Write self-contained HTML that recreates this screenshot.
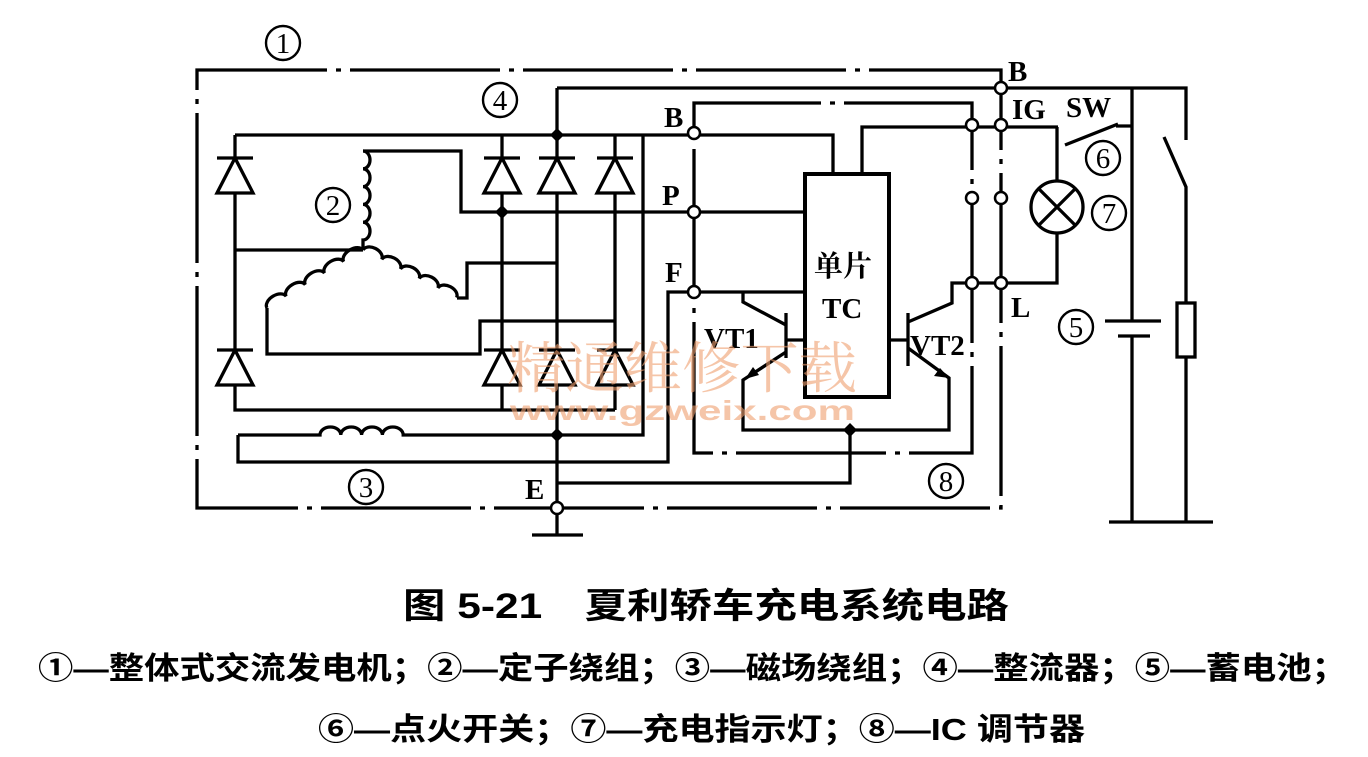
<!DOCTYPE html>
<html><head><meta charset="utf-8"><style>
html,body{margin:0;padding:0;background:#fff;}
svg{display:block;}
.w{fill:none;stroke:#000;stroke-width:3.3;stroke-linejoin:miter;}
.dd{stroke-dasharray:150 9 5 9;}
.t{font-family:"Liberation Serif",serif;font-size:29px;fill:#000;}
.cn{font-family:"Liberation Serif","Noto Serif CJK SC",serif;}
.cap{font-family:"Liberation Sans","Noto Sans CJK SC",sans-serif;fill:#000;font-weight:bold;}
</style></head><body>
<svg width="1368" height="757" viewBox="0 0 1368 757" xmlns="http://www.w3.org/2000/svg">
<path class="w dd" d="M1001,88 V70 H197 V508 H1001 V88"/>
<path class="w dd" d="M972,125 V103 H694 V453 H972 V125"/>

<path class="w" d="M557,88 H1186 V140"/>
<path class="w" d="M557,88 V508"/>
<path class="w" d="M235,135 H694 H833 V173"/>
<path class="w" d="M235,135 V410 H615"/>
<path class="w" d="M502,135 V410 M615,135 V410"/>
<path class="w" d="M643,135 V435 H557"/>
<path class="w" d="M235,250 H363"/>
<path class="w" d="M363,151 H461 V212 H804"/>
<path class="w" d="M267,308 V354 H480 V321 H615"/>
<path class="w" d="M457,298 H467 V263 H557"/>
<path class="w" transform="translate(363,151) rotate(90)" d="M0,0 a8.9,7 0 0 1 17.8,0 a8.9,7 0 0 1 17.8,0 a8.9,7 0 0 1 17.8,0 a8.9,7 0 0 1 17.8,0 a8.9,7 0 0 1 17.8,0 L99,0"/>
<path class="w" transform="translate(267,308) rotate(-31.1)" d="M0,0 a11.2,7 0 0 1 22.4,0 a11.2,7 0 0 1 22.4,0 a11.2,7 0 0 1 22.4,0 a11.2,7 0 0 1 22.4,0 a11.2,7 0 0 1 22.4,0"/>
<path class="w" transform="translate(363,250) rotate(27)" d="M0,0 a10.5,7 0 0 1 21,0 a10.5,7 0 0 1 21,0 a10.5,7 0 0 1 21,0 a10.5,7 0 0 1 21,0 a10.5,7 0 0 1 21,0"/>
<path class="w" d="M238,435 H320 a10.4,8 0 0 1 20.8,0 a10.4,8 0 0 1 20.8,0 a10.4,8 0 0 1 20.8,0 a10.4,8 0 0 1 20.8,0 H557"/>
<path class="w" d="M238,435 V462 H668 V292 H804"/>

<g class="w" fill="#fff">
<path d="M217,158 H253 M235,158 L217,193 H253 Z" fill="#fff"/>
<path d="M217,350 H253 M235,350 L217,385 H253 Z" fill="#fff"/>
<path d="M484,158 H520 M502,158 L484,193 H520 Z" fill="#fff"/>
<path d="M539,158 H575 M557,158 L539,193 H575 Z" fill="#fff"/>
<path d="M597,158 H633 M615,158 L597,193 H633 Z" fill="#fff"/>
<path d="M484,350 H520 M502,350 L484,385 H520 Z" fill="#fff"/>
<path d="M539,350 H575 M557,350 L539,385 H575 Z" fill="#fff"/>
<path d="M597,350 H633 M615,350 L597,385 H633 Z" fill="#fff"/>
</g>
<g fill="#000"><path d="M557,128 l7,7 -7,7 -7,-7z"/><path d="M502,205 l7,7 -7,7 -7,-7z"/><path d="M557,428 l7,7 -7,7 -7,-7z"/><path d="M850,423 l7,7 -7,7 -7,-7z"/></g>

<rect x="805" y="174" width="84" height="223" fill="#fff" stroke="#000" stroke-width="4"/>
<path class="w" d="M862,173 V127 H1058"/>
<path class="w" d="M1065,145 L1118,124 M1116,126 H1132"/>
<path class="w" d="M1057,127 V181 M1057,233 V283 H952 V303 L908,322"/>
<circle cx="1057" cy="207" r="26" class="w"/>
<path class="w" d="M1039,189 L1075,225 M1075,189 L1039,225"/>
<path class="w" d="M908,313 V366 M889,340 H908"/>
<path class="w" d="M908,348 L949,378 V430 H743 V380 L786,352"/>
<path d="M949,378 l-15,-2 6,-8z" fill="#000"/>
<path class="w" d="M786,313 V358 M786,340 H805"/>
<path class="w" d="M786,325 L743,302 V292"/>
<path d="M745,379 l8,-12 6,8z" fill="#000"/>
<path class="w" d="M850,430 V483 H557"/>
<path class="w" d="M1132,88 V321 M1132,336 V522 M1105,321 H1161 M1118,336 H1150"/>
<path class="w" d="M1109,522 H1213"/>
<path class="w" d="M1164,137 L1186,187 V303 M1186,357 V522"/>
<rect x="1177" y="303" width="18" height="54" class="w" fill="#fff"/>
<path class="w" d="M557,508 V535 M532,535 H583"/>

<g fill="#fff" stroke="#000" stroke-width="2.5">
<circle cx="1001" cy="88" r="6"/><circle cx="1001" cy="125" r="6"/><circle cx="1001" cy="198" r="6"/><circle cx="1001" cy="283" r="6"/>
<circle cx="972" cy="125" r="6"/><circle cx="972" cy="198" r="6"/><circle cx="972" cy="283" r="6"/>
<circle cx="694" cy="133" r="6"/><circle cx="694" cy="212" r="6"/><circle cx="694" cy="292" r="6"/>
<circle cx="557" cy="508" r="6"/>
</g>

<g fill="none" stroke="#000" stroke-width="2.4">
<circle cx="283" cy="43" r="17"/><circle cx="333" cy="205" r="17"/><circle cx="366" cy="487" r="17"/><circle cx="500" cy="100" r="17"/>
<circle cx="1076" cy="327" r="17"/><circle cx="1103" cy="158" r="17"/><circle cx="1109" cy="213" r="17"/><circle cx="946" cy="481" r="17"/>
</g>
<g class="t" text-anchor="middle" font-size="28">
<text x="283" y="53">1</text><text x="333" y="215">2</text><text x="366" y="497">3</text><text x="500" y="110">4</text>
<text x="1076" y="337">5</text><text x="1103" y="168">6</text><text x="1109" y="223">7</text><text x="946" y="491">8</text>
</g>
<g class="t" font-weight="bold">
<text x="1008" y="81">B</text>
<text x="1012" y="119">IG</text>
<text x="1066" y="117">SW</text>
<text x="664" y="127">B</text>
<text x="662" y="205">P</text>
<text x="665" y="282">F</text>
<text x="1011" y="317">L</text>
<text x="525" y="499">E</text>
<text x="704" y="348">VT1</text>
<text x="910" y="355">VT2</text>
<text x="814" y="276" class="t cn" font-size="30" font-weight="bold">单片</text>
<text x="822" y="318">TC</text>
</g>

<g opacity="0.6" fill="#f0a070">
<text x="507" y="388" font-family="Liberation Serif,'Noto Serif CJK SC',serif" font-size="56" textLength="350" lengthAdjust="spacingAndGlyphs">精通维修下载</text>
<text x="510" y="420" font-family="Liberation Sans,sans-serif" font-weight="bold" font-size="28" textLength="345" lengthAdjust="spacingAndGlyphs">www.gzweix.com</text>
</g>

<text class="cap" x="403" y="618" font-size="35" textLength="606" lengthAdjust="spacingAndGlyphs">图 5-21　夏利轿车充电系统电路</text>
<text class="cap" x="38" y="679" font-size="31" textLength="1309" lengthAdjust="spacingAndGlyphs">①—整体式交流发电机；②—定子绕组；③—磁场绕组；④—整流器；⑤—蓄电池；</text>
<text class="cap" x="318" y="740" font-size="31" textLength="767" lengthAdjust="spacingAndGlyphs">⑥—点火开关；⑦—充电指示灯；⑧—IC 调节器</text>
</svg>
</body></html>
